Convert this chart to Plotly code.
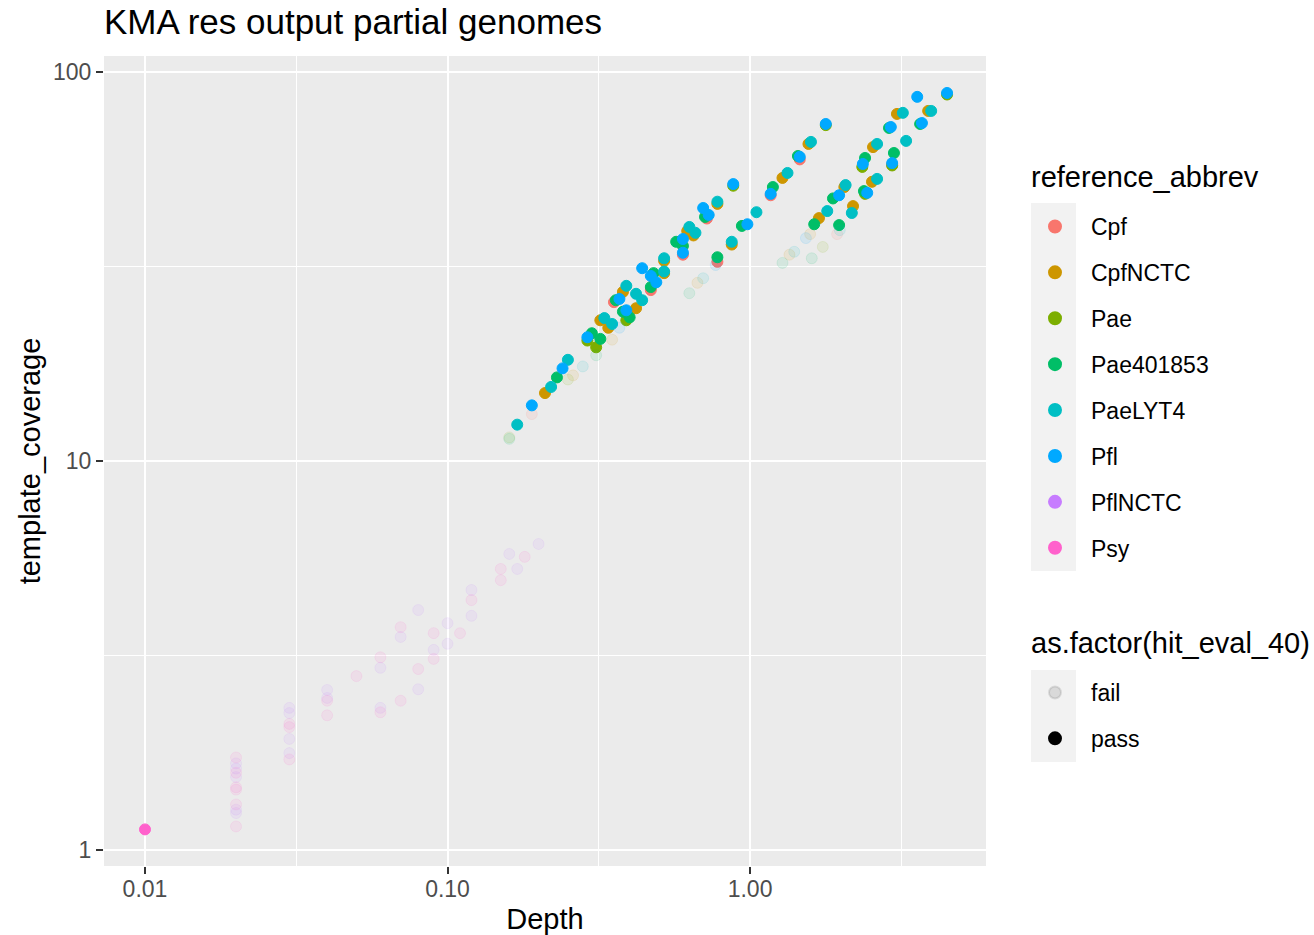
import plotly.graph_objects as go

# KMA res output: depth vs template coverage, coloured by reference,
# faded where hit_eval_40 == "fail"

references = ["Cpf", "CpfNCTC", "Pae", "Pae401853", "PaeLYT4", "Pfl", "PflNCTC", "Psy"]
ref_colors = ["#F8766D", "#CD9600", "#7CAE00", "#00BE67", "#00BFC4", "#00A9FF", "#C77CFF", "#FF61CC"]
eval_levels = ["fail", "pass"]

# 1 = pass, 0 = fail
cpf_depth = [0.19, 0.355, 0.47, 0.60, 0.72, 0.78, 1.17, 1.46, 1.94, 2.95]
cpf_cov = [13.2, 25.6, 27.5, 33.9, 42.0, 32.5, 48.2, 59.6, 38.3, 57.7]
cpf_pass = [0, 1, 1, 1, 1, 1, 1, 1, 0, 1]

cpfnctc_depth = [0.26, 0.35, 0.67, 1.35, 1.58,
                 0.21, 0.32, 0.34, 0.38, 0.42, 0.52, 0.52, 0.62, 0.65, 0.78,
                 0.87, 1.28, 1.56, 1.69, 2.05, 2.19, 2.53, 2.55, 3.06, 3.88]
cpfnctc_cov = [16.6, 20.5, 28.7, 33.9, 38.3,
               14.95, 23.0, 22.0, 27.2, 24.7, 30.4, 32.7, 39.0, 38.0, 45.8,
               36.0, 53.4, 65.3, 42.1, 50.6, 45.2, 52.2, 64.1, 78.0, 79.4]
cpfnctc_pass = [0, 0, 0, 0, 0] + [1] * 20

pae_depth = [0.16, 0.25, 1.74, 0.29, 0.31, 0.39, 0.88, 1.78, 2.40, 2.35, 2.95, 4.48]
pae_cov = [11.5, 16.2, 35.5, 20.4, 19.6, 23.0, 51.0, 73.0, 48.6, 57.0, 57.5, 87.5]
pae_pass = [0, 0, 0, 1, 1, 1, 1, 1, 1, 1, 1, 1]

pae401853_depth = [0.16, 0.31, 0.63, 1.28, 1.60,
                   0.23, 0.30, 0.32, 0.36, 0.38, 0.40, 0.47, 0.48, 0.57, 0.60,
                   0.71, 0.78, 0.94, 1.19, 1.44, 1.63, 1.88, 1.97, 2.38, 2.40,
                   2.99, 2.88, 3.65]
pae401853_cov = [11.4, 18.7, 27.0, 32.3, 33.2,
                 16.4, 21.3, 20.6, 25.9, 24.2, 23.4, 28.0, 30.4, 36.6, 35.7,
                 42.4, 33.4, 40.2, 50.6, 60.8, 40.6, 47.3, 40.4, 49.4, 60.1,
                 61.9, 71.8, 73.5]
pae401853_pass = [0, 0, 0, 0, 0] + [1] * 23

paelyt4_depth = [0.28, 0.70, 1.40, 1.98,
                 0.17, 0.22, 0.25, 0.33, 0.35, 0.39, 0.42, 0.44, 0.52, 0.52,
                 0.63, 0.66, 0.78, 0.87, 1.05, 1.33, 1.59, 1.80, 2.07, 2.17,
                 2.63, 2.63, 3.28, 3.20, 3.97]
paelyt4_cov = [17.5, 29.5, 34.5, 39.2,
               12.4, 15.5, 18.2, 23.3, 22.5, 28.2, 26.9, 25.9, 30.7, 33.2,
               39.96, 38.6, 46.4, 36.6, 43.6, 55.0, 66.1, 43.9, 51.2, 43.4,
               53.1, 65.3, 66.5, 78.5, 79.4]
paelyt4_pass = [0, 0, 0, 0] + [1] * 25

pfl_depth = [0.37, 0.77, 1.53,
             0.19, 0.24, 0.29, 0.37, 0.39, 0.44, 0.47, 0.49, 0.60, 0.60,
             0.70, 0.73, 0.88, 0.98, 1.17, 1.46, 1.78, 1.97, 2.44, 2.36,
             2.95, 2.92, 3.57, 3.70, 4.48]
pfl_cov = [22.0, 31.9, 37.4,
           13.9, 17.3, 20.8, 26.1, 24.4, 31.3, 29.9, 28.8, 37.2, 34.3,
           44.7, 42.9, 51.5, 40.6, 48.6, 60.5, 73.5, 48.2, 48.9, 58.0,
           58.3, 72.2, 86.3, 73.9, 88.3]
pfl_pass = [0, 0, 0] + [1] * 25

pflnctc_depth = [0.02, 0.02, 0.02, 0.02, 0.02, 0.03, 0.03, 0.03, 0.03,
                 0.04, 0.04, 0.06, 0.06, 0.07, 0.08, 0.08, 0.09, 0.10, 0.10,
                 0.12, 0.12, 0.16, 0.17, 0.20]
pflnctc_cov = [1.67, 1.62, 1.54, 1.27, 1.245, 2.32, 2.25, 1.93, 1.775,
               2.58, 2.46, 2.94, 2.32, 3.53, 4.14, 2.59, 3.27, 3.83, 3.39,
               4.66, 4.00, 5.77, 5.28, 6.12]
pflnctc_pass = [0] * 24

psy_depth = [0.01, 0.02, 0.02, 0.02, 0.02, 0.02, 0.02, 0.03, 0.03, 0.03,
             0.04, 0.04, 0.05, 0.06, 0.06, 0.07, 0.07, 0.08, 0.09, 0.09,
             0.11, 0.12, 0.15, 0.15, 0.18]
psy_cov = [1.13, 1.73, 1.58, 1.45, 1.43, 1.31, 1.15, 2.11, 2.07, 1.71,
           2.42, 2.22, 2.80, 3.13, 2.26, 3.74, 2.42, 2.92, 3.61, 3.10,
           3.61, 4.39, 5.28, 4.94, 5.67]
psy_pass = [1] + [0] * 24

series = {
    "Cpf": (cpf_depth, cpf_cov, cpf_pass),
    "CpfNCTC": (cpfnctc_depth, cpfnctc_cov, cpfnctc_pass),
    "Pae": (pae_depth, pae_cov, pae_pass),
    "Pae401853": (pae401853_depth, pae401853_cov, pae401853_pass),
    "PaeLYT4": (paelyt4_depth, paelyt4_cov, paelyt4_pass),
    "Pfl": (pfl_depth, pfl_cov, pfl_pass),
    "PflNCTC": (pflnctc_depth, pflnctc_cov, pflnctc_pass),
    "Psy": (psy_depth, psy_cov, psy_pass),
}

x_ticks = [0.01, 0.1, 1.0]
x_ticktext = ["0.01", "0.10", "1.00"]
y_ticks = [1, 10, 100]
y_ticktext = ["1", "10", "100"]

FAIL_ALPHA = 0.1
FONT = "Liberation Sans, Arial, Helvetica, sans-serif"

# figure geometry (px)
W, H = 1314, 935
L, R, T, B = 104, 328, 56, 69
PW, PH = W - L - R, H - T - B


def px_x(p):
    return (p - L) / PW


def px_y(p):
    return (H - B - p) / PH


def rgba(hex_color, a):
    h = hex_color.lstrip("#")
    r, g, b = int(h[0:2], 16), int(h[2:4], 16), int(h[4:6], 16)
    return f"rgba({r},{g},{b},{a})"


fig = go.Figure()

for name, color in zip(references, ref_colors):
    xs, ys, ok = series[name]
    cols = [color if p else rgba(color, FAIL_ALPHA) for p in ok]
    fig.add_trace(go.Scatter(
        x=xs, y=ys, mode="markers", name=name, showlegend=False,
        marker=dict(size=11, color=cols, line=dict(width=1, color=cols)),
        hoverinfo="x+y+name",
    ))

# legend keys: colour scale
for name, color in zip(references, ref_colors):
    fig.add_trace(go.Scatter(
        x=[None], y=[None], mode="markers", name=name, legend="legend",
        legendgroup=name, showlegend=True,
        marker=dict(size=11, color=color, line=dict(width=1, color=color)),
    ))

# legend keys: alpha scale
for lvl, a in zip(eval_levels, [FAIL_ALPHA, 1.0]):
    fig.add_trace(go.Scatter(
        x=[None], y=[None], mode="markers", name=lvl, legend="legend2",
        legendgroup=lvl, showlegend=True,
        marker=dict(size=11, color=rgba("#000000", a), line=dict(width=1, color=rgba("#000000", a))),
    ))

axis_common = dict(
    type="log", showline=False, zeroline=False, automargin=False,
    gridcolor="white", gridwidth=2,
    ticks="outside", ticklen=7, tickwidth=2, tickcolor="#333333",
    tickfont=dict(family=FONT, size=23, color="#4D4D4D"),
    tickmode="array",
)

legend_common = dict(
    xanchor="left", yanchor="top", bgcolor="rgba(0,0,0,0)",
    traceorder="grouped", tracegroupgap=13, itemwidth=62,
    font=dict(family=FONT, size=23, color="black"), itemsizing="constant",
)

fig.update_layout(
    width=W, height=H,
    margin=dict(l=L, r=R, t=T, b=B, autoexpand=False),
    paper_bgcolor="white", plot_bgcolor="#EBEBEB",
    font=dict(family=FONT, color="black"),
    title=dict(text="KMA res output partial genomes", x=0, xref="paper", xanchor="left",
               y=1 - 22 / H, yref="container", yanchor="middle",
               font=dict(family=FONT, size=35, color="black")),
    xaxis=dict(axis_common, range=[-2.1355, 0.780], tickvals=x_ticks, ticktext=x_ticktext,
               ticklabelstandoff=-5,
               minor=dict(tickmode="array", tickvals=[10 ** -1.5, 10 ** -0.5, 10 ** 0.5],
                          showgrid=True, gridcolor="white", gridwidth=1, ticks=""),
               title=dict(text="Depth", font=dict(family=FONT, size=29, color="black"), standoff=8)),
    yaxis=dict(axis_common, range=[-0.041, 2.041], tickvals=y_ticks, ticktext=y_ticktext,
               minor=dict(tickmode="array", tickvals=[10 ** 0.5, 10 ** 1.5],
                          showgrid=True, gridcolor="white", gridwidth=1, ticks=""),
               title=dict(text="template_coverage", font=dict(family=FONT, size=29, color="black"), standoff=3)),
    legend=dict(legend_common, x=px_x(1019), y=px_y(205)),
    legend2=dict(legend_common, x=px_x(1019), y=px_y(671)),
    annotations=[
        dict(text="reference_abbrev", xref="paper", yref="paper", x=px_x(1029), y=px_y(177),
             xanchor="left", yanchor="middle", showarrow=False,
             font=dict(family=FONT, size=29, color="black")),
        dict(text="as.factor(hit_eval_40)", xref="paper", yref="paper", x=px_x(1029), y=px_y(643),
             xanchor="left", yanchor="middle", showarrow=False,
             font=dict(family=FONT, size=29, color="black")),
    ],
    shapes=[
        dict(type="rect", xref="paper", yref="paper", x0=px_x(1031), x1=px_x(1076),
             y0=px_y(571), y1=px_y(203), fillcolor="#F2F2F2", line=dict(width=0), layer="below"),
        dict(type="rect", xref="paper", yref="paper", x0=px_x(1031), x1=px_x(1076),
             y0=px_y(762), y1=px_y(670), fillcolor="#F2F2F2", line=dict(width=0), layer="below"),
    ],
)

fig.write_html("out.html")
